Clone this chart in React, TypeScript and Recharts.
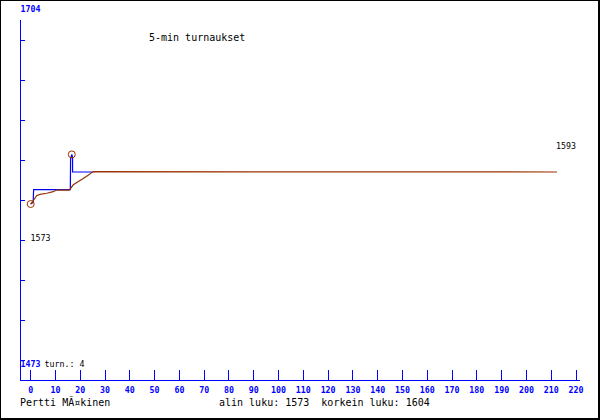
import React from 'react';
import { LineChart, Line, XAxis, YAxis, ReferenceDot } from 'recharts';

// Rating after each tournament (blue)
const ratingRounds = [0, 1, 1.2, 16, 16.1, 16.6, 16.9, 16.9, 25.3];
const ratingValues = [1573, 1574, 1582, 1582, 1601, 1604, 1602, 1593, 1593];

// Smoothed rating (brown)
const avgRounds = [0, 0.8, 2.4, 3.8, 6.5, 9.1, 10.5, 15.6, 17.2, 21.2, 23.2, 24.6, 25.3, 212.3];
const avgValues = [1573, 1574.4, 1578.2, 1579, 1579.7, 1580.7, 1581.7, 1581.7, 1585, 1589, 1591, 1592.6, 1593.2, 1593];

const xTicks = [0, 10, 20, 30, 40, 50, 60, 70, 80, 90, 100, 110, 120, 130, 140, 150, 160, 170, 180, 190, 200, 210, 220];
const yTicks = [1475.5, 1500.5, 1525.5, 1550.5, 1575.5, 1600.5, 1625.5, 1650.5, 1675.5];

const yTopLabel = '1704';
const yBottomLabel = '1473';
const tournamentCount = 4;
const lowestValue = 1573;
const lowestRound = 0;
const highestValue = 1604;
const highestRound = 16.6;
const lastValue = 1593;
const title = '5-min turnaukset';
const author = 'Pertti MÃ¤kinen';

const ratingData = ratingRounds.map((x, i) => ({ x, y: ratingValues[i] }));
const avgData = avgRounds.map((x, i) => ({ x, y: avgValues[i] }));

const BLUE = '#0000ff';
const BROWN = '#993300';
const MONO = '"DejaVu Sans Mono", "Liberation Mono", monospace';
const SMALL = 8.3;
const MEDIUM = 10;

const XTick = (props: any) => {
  const { x, y, payload } = props;
  return (
    <g>
      <line x1={x} y1={y} x2={x} y2={y - 10} stroke={BLUE} strokeWidth={1} shapeRendering="crispEdges" />
      <text x={x} y={y + 13} textAnchor="middle" fill={BLUE} fontFamily={MONO} fontSize={SMALL} fontWeight="bold">
        {payload.value}
      </text>
    </g>
  );
};

const YTick = (props: any) => {
  const { x, y } = props;
  return <line x1={x} y1={y} x2={x + 5} y2={y} stroke={BLUE} strokeWidth={1} shapeRendering="crispEdges" />;
};

export default function App() {
  return (
    <div style={{ position: 'absolute', left: 0, top: 0, width: 600, height: 420, background: '#fff' }}>
      <LineChart width={600} height={420} margin={{ top: 20, right: 20, bottom: 0, left: 0 }}>
        <XAxis
          type="number"
          dataKey="x"
          domain={[-4.3, 221.6]}
          ticks={xTicks}
          interval={0}
          tick={<XTick />}
          tickLine={false}
          tickSize={0}
          tickMargin={0}
          height={40}
          allowDataOverflow
          axisLine={{ stroke: BLUE, strokeWidth: 1, shapeRendering: 'crispEdges' }}
        />
        <YAxis
          type="number"
          dataKey="y"
          domain={[1463, 1688]}
          ticks={yTicks}
          interval={0}
          tick={<YTick />}
          tickLine={false}
          tickSize={0}
          tickMargin={0}
          width={20}
          allowDataOverflow
          axisLine={{ stroke: BLUE, strokeWidth: 1, shapeRendering: 'crispEdges' }}
        />
        <Line
          data={ratingData}
          dataKey="y"
          type="linear"
          stroke={BLUE}
          strokeWidth={1.2}
          dot={false}
          activeDot={false}
          isAnimationActive={false}
        />
        <Line
          data={avgData}
          dataKey="y"
          type="linear"
          stroke={BROWN}
          strokeWidth={1.2}
          dot={false}
          activeDot={false}
          isAnimationActive={false}
        />
        <ReferenceDot x={lowestRound} y={lowestValue} r={3.5} fill="none" stroke={BROWN} strokeWidth={1} />
        <ReferenceDot x={highestRound} y={highestValue} r={3.5} fill="none" stroke={BROWN} strokeWidth={1} />
      </LineChart>
      <svg
        width={600}
        height={420}
        style={{ position: 'absolute', left: 0, top: 0, pointerEvents: 'none' }}
      >
        <rect x={0} y={0} width={1} height={420} fill="#000" />
        <rect x={0} y={0} width={600} height={1} fill="#000" />
        <rect x={598} y={0} width={2} height={420} fill="#000" />
        <rect x={0} y={418} width={600} height={2} fill="#000" />
        <text x={20.5} y={12} fill={BLUE} fontFamily={MONO} fontSize={SMALL} fontWeight="bold">{yTopLabel}</text>
        <text x={20.5} y={367} fill={BLUE} fontFamily={MONO} fontSize={SMALL} fontWeight="bold">{yBottomLabel}</text>
        <text x={44.5} y={367} fill="#000" fontFamily={MONO} fontSize={SMALL}>{`turn.: ${tournamentCount}`}</text>
        <text x={30.5} y={241} fill="#000" fontFamily={MONO} fontSize={SMALL}>{lowestValue}</text>
        <text x={556} y={149} fill="#000" fontFamily={MONO} fontSize={SMALL}>{lastValue}</text>
        <text x={149} y={41} fill="#000" fontFamily={MONO} fontSize={MEDIUM}>{title}</text>
        <text x={20} y={406} fill="#000" fontFamily={MONO} fontSize={MEDIUM}>{author}</text>
        <text x={219} y={406} fill="#000" fontFamily={MONO} fontSize={MEDIUM} style={{ whiteSpace: 'pre' }}>
          {`alin luku: ${lowestValue}  korkein luku: ${highestValue}`}
        </text>
      </svg>
    </div>
  );
}
